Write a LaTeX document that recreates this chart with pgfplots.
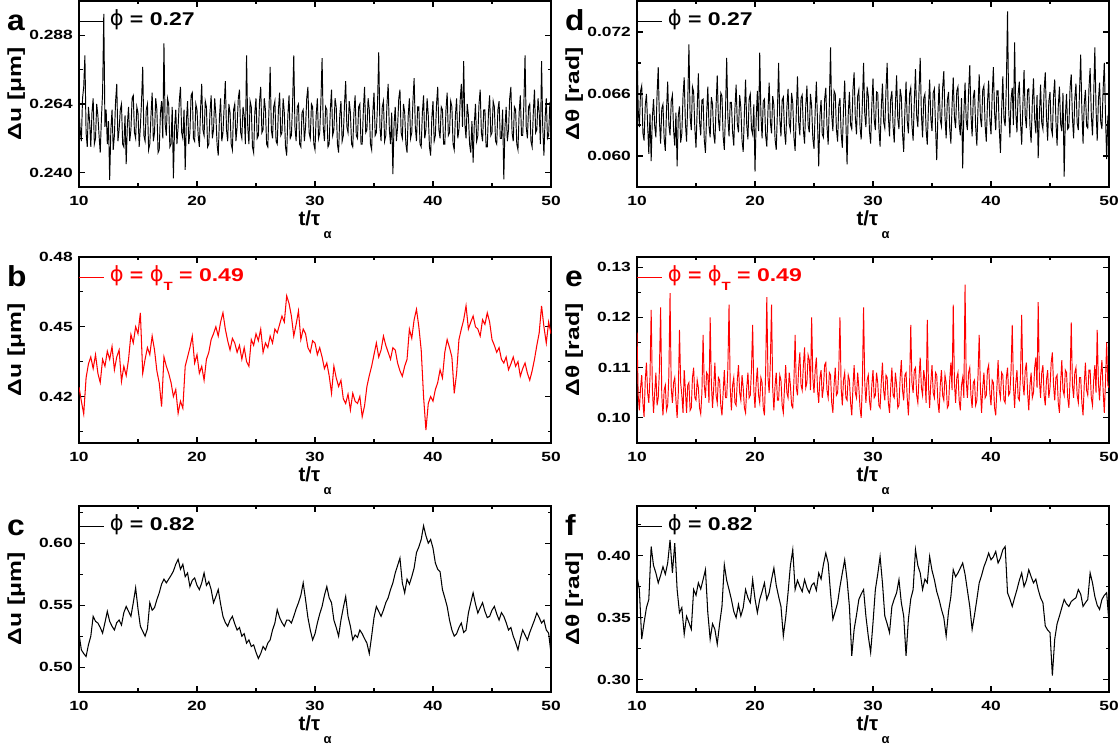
\documentclass[border=0pt]{standalone}
\usepackage{fontspec}
\setmainfont{Liberation Sans}
\newfontfamily\widef[FakeStretch=1.3]{Liberation Sans}
\newfontfamily\legf[FakeStretch=1.25]{Liberation Sans}
\newfontfamily\ylabf[FakeStretch=1.3]{Liberation Sans}
\newfontfamily\letf[FakeStretch=1.1]{Liberation Sans}
\newfontfamily\symf{DejaVu Sans}
\usepackage{pgfplots}
\pgfplotsset{compat=1.18}
\definecolor{pred}{RGB}{255,0,0}
\newcommand{\phis}{{\symf\mdseries\fontsize{21}{21}\selectfont ϕ}}
\newcommand{\subT}{\raisebox{-9bp}{\fontsize{12}{12}\selectfont T}}
\pgfplotsset{
  panel/.style={
    scale only axis, width=472bp, height=186bp, anchor=south west,
    xmin=10, xmax=50, xtick={10,20,30,40,50}, xticklabels={10,20,30,40,50},
    minor xtick={15,25,35,45},
    axis line style={line width=2bp},
    every tick/.style={black, line width=1.1bp},
    major tick length=6bp, minor tick length=3.5bp,
    tick align=inside, tick pos=both,
    every tick label/.append style={inner sep=0pt, font=\widef\bfseries\fontsize{13.4}{13.4}\selectfont},
    xticklabel style={yshift=-9bp},
    yticklabel style={xshift=-6bp},
    xlabel={t/τ\,\raisebox{-13bp}{\fontsize{13}{13}\selectfont α}},
    every axis x label/.style={at={(axis description cs:0.5,0)}, anchor=north, yshift=-24bp, inner sep=0pt, font=\bfseries\fontsize{20.5}{20.5}\selectfont},
    every axis y label/.style={at={(axis description cs:-0.133,0.5)}, rotate=90, anchor=center, inner sep=0pt, font=\ylabf\bfseries\fontsize{19}{19}\selectfont},
    legend style={at={(axis description cs:0,1)}, anchor=west, yshift=-17bp, draw=none, fill=none, inner sep=0pt, outer sep=0pt, column sep=3bp, font=\legf\bfseries\fontsize{18.5}{18.5}\selectfont},
    legend cell align=left,
    legend image code/.code={\draw[#1, line width=0.8bp] (0bp,-3.5bp) -- (25bp,-3.5bp);},
  },
  dat/.style={line width=0.95bp, black},
  sdat/.style={line width=1.05bp, black},
}
\begin{document}
\begin{tikzpicture}
% ---------------- panel a
\begin{axis}[panel, name=pa, at={(79bp,560bp)}, ymin=0.235, ymax=0.300,
  ytick={0.240,0.264,0.288}, yticklabels={0.240,0.264,0.288}, minor ytick={0.252,0.276},
  ylabel={Δu [μm]}]
\addplot[dat] coordinates {
(10.0,0.262)(10.1,0.255)(10.2,0.251)(10.3,0.266)(10.4,0.270)(10.5,0.281)(10.6,0.254)(10.7,0.249)(10.8,0.263)(10.9,0.258)
(11.0,0.249)(11.1,0.261)(11.2,0.266)(11.3,0.250)(11.4,0.252)(11.5,0.264)(11.6,0.260)(11.7,0.253)(11.8,0.247)(11.9,0.259)
(12.0,0.268)(12.1,0.2955)(12.2,0.256)(12.3,0.262)(12.4,0.250)(12.5,0.258)(12.6,0.2375)(12.7,0.255)(12.8,0.262)(12.9,0.248)
(13.0,0.253)(13.1,0.265)(13.2,0.271)(13.3,0.251)(13.4,0.255)(13.5,0.262)(13.6,0.264)(13.7,0.250)(13.8,0.249)(13.9,0.260)
(14.0,0.243)(14.1,0.257)(14.2,0.263)(14.3,0.251)(14.4,0.255)(14.5,0.266)(14.6,0.267)(14.7,0.254)(14.8,0.252)(14.9,0.263)
(15.0,0.261)(15.1,0.249)(15.2,0.256)(15.3,0.265)(15.4,0.277)(15.5,0.253)(15.6,0.251)(15.7,0.262)(15.8,0.264)(15.9,0.248)
(16.0,0.250)(16.1,0.260)(16.2,0.268)(16.3,0.251)(16.4,0.254)(16.5,0.266)(16.6,0.262)(16.7,0.247)(16.8,0.248)(16.9,0.261)
(17.0,0.265)(17.1,0.252)(17.2,0.2852)(17.3,0.257)(17.4,0.253)(17.5,0.266)(17.6,0.264)(17.7,0.249)(17.8,0.250)(17.9,0.263)
(18.0,0.238)(18.1,0.256)(18.2,0.262)(18.3,0.250)(18.4,0.256)(18.5,0.265)(18.6,0.270)(18.7,0.254)(18.8,0.252)(18.9,0.262)
(19.0,0.241)(19.1,0.258)(19.2,0.265)(19.3,0.250)(19.4,0.254)(19.5,0.267)(19.6,0.268)(19.7,0.252)(19.8,0.251)(19.9,0.264)
(20.0,0.262)(20.1,0.253)(20.2,0.249)(20.3,0.262)(20.4,0.271)(20.5,0.255)(20.6,0.253)(20.7,0.265)(20.8,0.263)(20.9,0.249)
(21.0,0.250)(21.1,0.261)(21.2,0.267)(21.3,0.252)(21.4,0.255)(21.5,0.266)(21.6,0.260)(21.7,0.250)(21.8,0.246)(21.9,0.259)
(22.0,0.266)(22.1,0.251)(22.2,0.254)(22.3,0.263)(22.4,0.272)(22.5,0.255)(22.6,0.251)(22.7,0.264)(22.8,0.261)(22.9,0.250)
(23.0,0.248)(23.1,0.262)(23.2,0.264)(23.3,0.251)(23.4,0.256)(23.5,0.266)(23.6,0.269)(23.7,0.254)(23.8,0.252)(23.9,0.263)
(24.0,0.260)(24.1,0.250)(24.2,0.281)(24.3,0.256)(24.4,0.250)(24.5,0.265)(24.6,0.263)(24.7,0.249)(24.8,0.247)(24.9,0.261)
(25.0,0.266)(25.1,0.252)(25.2,0.253)(25.3,0.265)(25.4,0.270)(25.5,0.254)(25.6,0.255)(25.7,0.266)(25.8,0.262)(25.9,0.250)
(26.0,0.249)(26.1,0.262)(26.2,0.277)(26.3,0.255)(26.4,0.252)(26.5,0.263)(26.6,0.265)(26.7,0.251)(26.8,0.250)(26.9,0.262)
(27.0,0.268)(27.1,0.253)(27.2,0.254)(27.3,0.266)(27.4,0.261)(27.5,0.249)(27.6,0.246)(27.7,0.260)(27.8,0.267)(27.9,0.252)
(28.0,0.253)(28.1,0.264)(28.2,0.281)(28.3,0.256)(28.4,0.251)(28.5,0.263)(28.6,0.264)(28.7,0.250)(28.8,0.249)(28.9,0.261)
(29.0,0.262)(29.1,0.251)(29.2,0.256)(29.3,0.266)(29.4,0.270)(29.5,0.254)(29.6,0.252)(29.7,0.264)(29.8,0.263)(29.9,0.250)
(30.0,0.248)(30.1,0.260)(30.2,0.266)(30.3,0.252)(30.4,0.254)(30.5,0.265)(30.6,0.280)(30.7,0.256)(30.8,0.251)(30.9,0.263)
(31.0,0.262)(31.1,0.249)(31.2,0.250)(31.3,0.262)(31.4,0.269)(31.5,0.253)(31.6,0.255)(31.7,0.266)(31.8,0.263)(31.9,0.250)
(32.0,0.247)(32.1,0.260)(32.2,0.265)(32.3,0.251)(32.4,0.253)(32.5,0.264)(32.6,0.272)(32.7,0.256)(32.8,0.254)(32.9,0.265)
(33.0,0.261)(33.1,0.250)(33.2,0.249)(33.3,0.261)(33.4,0.267)(33.5,0.253)(33.6,0.252)(33.7,0.263)(33.8,0.264)(33.9,0.250)
(34.0,0.250)(34.1,0.262)(34.2,0.270)(34.3,0.254)(34.4,0.255)(34.5,0.266)(34.6,0.262)(34.7,0.250)(34.8,0.248)(34.9,0.261)
(35.0,0.268)(35.1,0.253)(35.2,0.254)(35.3,0.264)(35.4,0.282)(35.5,0.256)(35.6,0.251)(35.7,0.263)(35.8,0.265)(35.9,0.251)
(36.0,0.253)(36.1,0.264)(36.2,0.271)(36.3,0.255)(36.4,0.250)(36.5,0.261)(36.6,0.2395)(36.7,0.257)(36.8,0.263)(36.9,0.251)
(37.0,0.256)(37.1,0.266)(37.2,0.269)(37.3,0.254)(37.4,0.252)(37.5,0.264)(37.6,0.261)(37.7,0.250)(37.8,0.247)(37.9,0.260)
(38.0,0.266)(38.1,0.252)(38.2,0.254)(38.3,0.265)(38.4,0.273)(38.5,0.256)(38.6,0.251)(38.7,0.263)(38.8,0.263)(38.9,0.250)
(39.0,0.249)(39.1,0.261)(39.2,0.267)(39.3,0.252)(39.4,0.255)(39.5,0.266)(39.6,0.260)(39.7,0.249)(39.8,0.246)(39.9,0.259)
(40.0,0.265)(40.1,0.251)(40.2,0.253)(40.3,0.264)(40.4,0.270)(40.5,0.255)(40.6,0.252)(40.7,0.263)(40.8,0.262)(40.9,0.250)
(41.0,0.250)(41.1,0.262)(41.2,0.268)(41.3,0.253)(41.4,0.254)(41.5,0.265)(41.6,0.263)(41.7,0.250)(41.8,0.248)(41.9,0.260)
(42.0,0.266)(42.1,0.252)(42.2,0.255)(42.3,0.265)(42.4,0.271)(42.5,0.256)(42.6,0.279)(42.7,0.257)(42.8,0.252)(42.9,0.264)
(43.0,0.260)(43.1,0.250)(43.2,0.247)(43.3,0.258)(43.4,0.2435)(43.5,0.257)(43.6,0.264)(43.7,0.251)(43.8,0.253)(43.9,0.264)
(44.0,0.269)(44.1,0.254)(44.2,0.251)(44.3,0.262)(44.4,0.262)(44.5,0.249)(44.6,0.249)(44.7,0.261)(44.8,0.267)(44.9,0.253)
(45.0,0.254)(45.1,0.265)(45.2,0.263)(45.3,0.251)(45.4,0.250)(45.5,0.262)(45.6,0.265)(45.7,0.252)(45.8,0.252)(45.9,0.262)
(46.0,0.2377)(46.1,0.256)(46.2,0.263)(46.3,0.251)(46.4,0.255)(46.5,0.266)(46.6,0.270)(46.7,0.254)(46.8,0.251)(46.9,0.263)
(47.0,0.262)(47.1,0.250)(47.2,0.248)(47.3,0.261)(47.4,0.267)(47.5,0.253)(47.6,0.253)(47.7,0.264)(47.8,0.281)(47.9,0.256)
(48.0,0.252)(48.1,0.263)(48.2,0.264)(48.3,0.251)(48.4,0.249)(48.5,0.261)(48.6,0.269)(48.7,0.254)(48.8,0.255)(48.9,0.266)
(49.0,0.261)(49.1,0.250)(49.2,0.279)(49.3,0.256)(49.4,0.246)(49.5,0.259)(49.6,0.266)(49.7,0.252)(49.8,0.253)(49.9,0.264)(50.0,0.263)
};
\addlegendentry{\phis{} = 0.27}
\end{axis}
% ---------------- panel b
\begin{axis}[panel, name=pb, at={(79bp,304bp)}, ymin=0.40, ymax=0.48,
  ytick={0.42,0.45,0.48}, yticklabels={0.42,0.45,0.48}, minor ytick={0.405,0.435,0.465},
  ylabel={Δu [μm]}]
\addplot[sdat, pred] coordinates {
(10.0,0.424)(10.2,0.418)(10.4,0.4125)(10.6,0.428)(10.8,0.434)(11.0,0.437)(11.2,0.432)(11.4,0.438)(11.6,0.430)(11.8,0.426)
(12.0,0.436)(12.2,0.433)(12.4,0.4395)(12.6,0.436)(12.8,0.4415)(13.0,0.4315)(13.2,0.437)(13.4,0.440)(13.6,0.4265)(13.8,0.433)
(14.0,0.429)(14.2,0.436)(14.4,0.4467)(14.6,0.443)(14.8,0.450)(15.0,0.447)(15.2,0.456)(15.4,0.430)(15.6,0.436)(15.8,0.441)
(16.0,0.438)(16.2,0.446)(16.4,0.440)(16.6,0.431)(16.8,0.4258)(17.0,0.4157)(17.2,0.437)(17.4,0.433)(17.6,0.430)(17.8,0.426)
(18.0,0.420)(18.2,0.423)(18.4,0.4128)(18.6,0.418)(18.8,0.415)(19.0,0.433)(19.2,0.437)(19.4,0.441)(19.6,0.446)(19.8,0.4344)
(20.0,0.438)(20.2,0.430)(20.4,0.433)(20.6,0.427)(20.8,0.436)(21.0,0.439)(21.2,0.4445)(21.4,0.447)(21.6,0.450)(21.8,0.446)
(22.0,0.452)(22.2,0.456)(22.4,0.449)(22.6,0.444)(22.8,0.440)(23.0,0.445)(23.2,0.443)(23.4,0.439)(23.6,0.442)(23.8,0.436)
(24.0,0.441)(24.2,0.435)(24.4,0.433)(24.6,0.4445)(24.8,0.442)(25.0,0.447)(25.2,0.444)(25.4,0.449)(25.6,0.439)(25.8,0.443)
(26.0,0.441)(26.2,0.446)(26.4,0.443)(26.6,0.449)(26.8,0.4474)(27.0,0.451)(27.2,0.4546)(27.4,0.452)(27.6,0.4633)(27.8,0.460)
(28.0,0.4546)(28.2,0.446)(28.4,0.451)(28.6,0.4568)(28.8,0.4445)(29.0,0.449)(29.2,0.447)(29.4,0.441)(29.6,0.439)(29.8,0.444)
(30.0,0.443)(30.2,0.438)(30.4,0.441)(30.6,0.437)(30.8,0.432)(31.0,0.4344)(31.2,0.429)(31.4,0.4214)(31.6,0.433)(31.8,0.428)
(32.0,0.4243)(32.2,0.427)(32.4,0.419)(32.6,0.417)(32.8,0.421)(33.0,0.4142)(33.2,0.4214)(33.4,0.418)(33.6,0.417)(33.8,0.420)
(34.0,0.4113)(34.2,0.416)(34.4,0.4243)(34.6,0.429)(34.8,0.433)(35.0,0.438)(35.2,0.443)(35.4,0.437)(35.6,0.440)(35.8,0.446)
(36.0,0.442)(36.2,0.439)(36.4,0.436)(36.6,0.441)(36.8,0.440)(37.0,0.4344)(37.2,0.431)(37.4,0.4287)(37.6,0.433)(37.8,0.436)
(38.0,0.449)(38.2,0.445)(38.4,0.453)(38.6,0.4575)(38.8,0.450)(39.0,0.440)(39.2,0.420)(39.4,0.4056)(39.6,0.417)(39.8,0.420)
(40.0,0.418)(40.2,0.423)(40.4,0.426)(40.6,0.4315)(40.8,0.428)(41.0,0.439)(41.2,0.4445)(41.4,0.441)(41.6,0.437)(41.8,0.4214)
(42.0,0.430)(42.2,0.4445)(42.4,0.449)(42.6,0.453)(42.8,0.459)(43.0,0.449)(43.2,0.452)(43.4,0.4546)(43.6,0.450)(43.8,0.449)
(44.0,0.446)(44.2,0.453)(44.4,0.451)(44.6,0.456)(44.8,0.452)(45.0,0.4445)(45.2,0.442)(45.4,0.439)(45.6,0.441)(45.8,0.436)
(46.0,0.4344)(46.2,0.437)(46.4,0.4315)(46.6,0.434)(46.8,0.437)(47.0,0.433)(47.2,0.435)(47.4,0.4287)(47.6,0.432)(47.8,0.4344)
(48.0,0.430)(48.2,0.427)(48.4,0.431)(48.6,0.436)(48.8,0.442)(49.0,0.4474)(49.2,0.459)(49.4,0.450)(49.6,0.443)(49.8,0.452)(50.0,0.447)
};
\addlegendentry{\textcolor{pred}{\phis{} = \phis\subT{} = 0.49}}
\end{axis}
% ---------------- panel c
\begin{axis}[panel, name=pc, at={(79bp,55bp)}, ymin=0.48, ymax=0.63,
  ytick={0.50,0.55,0.60}, yticklabels={0.50,0.55,0.60}, minor ytick={0.525,0.575,0.625},
  ylabel={Δu [μm]}]
\addplot[sdat] coordinates {
(10.0,0.527)(10.2,0.514)(10.4,0.511)(10.6,0.5086)(10.8,0.518)(11.0,0.525)(11.2,0.541)(11.4,0.537)(11.6,0.5356)(11.8,0.532)
(12.0,0.5275)(12.2,0.536)(12.4,0.545)(12.6,0.537)(12.8,0.533)(13.0,0.530)(13.2,0.536)(13.4,0.538)(13.6,0.534)(13.8,0.544)
(14.0,0.549)(14.2,0.545)(14.4,0.541)(14.6,0.552)(14.8,0.564)(15.0,0.547)(15.2,0.533)(15.4,0.529)(15.6,0.525)(15.8,0.531)
(16.0,0.552)(16.2,0.546)(16.4,0.548)(16.6,0.5545)(16.8,0.560)(17.0,0.567)(17.2,0.571)(17.4,0.568)(17.6,0.571)(17.8,0.574)
(18.0,0.5775)(18.2,0.583)(18.4,0.587)(18.6,0.579)(18.8,0.583)(19.0,0.573)(19.2,0.576)(19.4,0.565)(19.6,0.570)(19.8,0.572)
(20.0,0.566)(20.2,0.5626)(20.4,0.568)(20.6,0.576)(20.8,0.566)(21.0,0.569)(21.2,0.5626)(21.4,0.552)(21.6,0.557)(21.8,0.5626)
(22.0,0.551)(22.2,0.541)(22.4,0.536)(22.6,0.533)(22.8,0.538)(23.0,0.541)(23.2,0.535)(23.4,0.530)(23.6,0.532)(23.8,0.525)
(24.0,0.527)(24.2,0.5194)(24.4,0.522)(24.6,0.5167)(24.8,0.518)(25.0,0.512)(25.2,0.507)(25.4,0.511)(25.6,0.5167)(25.8,0.514)
(26.0,0.5194)(26.2,0.522)(26.4,0.530)(26.6,0.5356)(26.8,0.5464)(27.0,0.540)(27.2,0.536)(27.4,0.533)(27.6,0.538)(27.8,0.538)
(28.0,0.5356)(28.2,0.541)(28.4,0.547)(28.6,0.552)(28.8,0.558)(29.0,0.568)(29.2,0.5545)(29.4,0.540)(29.6,0.530)(29.8,0.522)
(30.0,0.527)(30.2,0.5356)(30.4,0.543)(30.6,0.549)(30.8,0.558)(31.0,0.565)(31.2,0.556)(31.4,0.552)(31.6,0.538)(31.8,0.532)
(32.0,0.525)(32.2,0.538)(32.4,0.548)(32.6,0.557)(32.8,0.541)(33.0,0.533)(33.2,0.522)(33.4,0.526)(33.6,0.524)(33.8,0.530)
(34.0,0.527)(34.2,0.523)(34.4,0.5194)(34.6,0.511)(34.8,0.525)(35.0,0.540)(35.2,0.549)(35.4,0.545)(35.6,0.541)(35.8,0.546)
(36.0,0.552)(36.2,0.556)(36.4,0.5626)(36.6,0.568)(36.8,0.576)(37.0,0.582)(37.2,0.588)(37.4,0.568)(37.6,0.560)(37.8,0.571)
(38.0,0.567)(38.2,0.573)(38.4,0.580)(38.6,0.5924)(38.8,0.597)(39.0,0.603)(39.2,0.614)(39.4,0.606)(39.6,0.600)(39.8,0.603)
(40.0,0.596)(40.2,0.584)(40.4,0.579)(40.6,0.577)(40.8,0.5626)(41.0,0.556)(41.2,0.549)(41.4,0.538)(41.6,0.530)(41.8,0.525)
(42.0,0.527)(42.2,0.532)(42.4,0.5356)(42.6,0.528)(42.8,0.530)(43.0,0.5437)(43.2,0.552)(43.4,0.560)(43.6,0.551)(43.8,0.5437)
(44.0,0.548)(44.2,0.552)(44.4,0.545)(44.6,0.540)(44.8,0.541)(45.0,0.546)(45.2,0.549)(45.4,0.543)(45.6,0.538)(45.8,0.544)
(46.0,0.541)(46.2,0.536)(46.4,0.530)(46.6,0.532)(46.8,0.525)(47.0,0.520)(47.2,0.514)(47.4,0.523)(47.6,0.530)(47.8,0.526)
(48.0,0.522)(48.2,0.528)(48.4,0.533)(48.6,0.538)(48.8,0.5437)(49.0,0.540)(49.2,0.5356)(49.4,0.538)(49.6,0.530)(49.8,0.5275)(50.0,0.511)
};
\addlegendentry{\phis{} = 0.82}
\end{axis}
% ---------------- panel d
\begin{axis}[panel, name=pd, at={(637bp,560bp)}, ymin=0.057, ymax=0.075,
  ytick={0.060,0.066,0.072}, yticklabels={0.060,0.066,0.072}, minor ytick={0.063,0.069},
  ylabel={Δθ [rad]}]
\addplot[dat] coordinates {
(10.0,0.0712)(10.1,0.0645)(10.2,0.0628)(10.3,0.0663)(10.4,0.0668)(10.5,0.0622)(10.6,0.0615)(10.7,0.0649)(10.8,0.0660)(10.9,0.0631)
(11.0,0.0602)(11.1,0.0641)(11.2,0.0595)(11.3,0.0637)(11.4,0.0655)(11.5,0.0629)(11.6,0.0618)(11.7,0.0660)(11.8,0.0686)(11.9,0.0634)
(12.0,0.0612)(12.1,0.0646)(12.2,0.0650)(12.3,0.0617)(12.4,0.0605)(12.5,0.0644)(12.6,0.0672)(12.7,0.0630)(12.8,0.0620)(12.9,0.0653)
(13.0,0.0659)(13.1,0.0625)(13.2,0.0610)(13.3,0.0642)(13.4,0.0590)(13.5,0.0639)(13.6,0.0648)(13.7,0.0613)(13.8,0.0622)(13.9,0.0658)
(14.0,0.0676)(14.1,0.0632)(14.2,0.0614)(14.3,0.0651)(14.4,0.0708)(14.5,0.0638)(14.6,0.0625)(14.7,0.0667)(14.8,0.0662)(14.9,0.0627)
(15.0,0.0608)(15.1,0.0645)(15.2,0.0680)(15.3,0.0633)(15.4,0.0620)(15.5,0.0654)(15.6,0.0655)(15.7,0.0616)(15.8,0.0603)(15.9,0.0640)
(16.0,0.0667)(16.1,0.0629)(16.2,0.0618)(16.3,0.0657)(16.4,0.0650)(16.5,0.0621)(16.6,0.0612)(16.7,0.0648)(16.8,0.0678)(16.9,0.0635)
(17.0,0.0624)(17.1,0.0661)(17.2,0.0658)(17.3,0.0619)(17.4,0.0606)(17.5,0.0643)(17.6,0.0695)(17.7,0.0637)(17.8,0.0619)(17.9,0.0652)
(18.0,0.0652)(18.1,0.0623)(18.2,0.0610)(18.3,0.0646)(18.4,0.0669)(18.5,0.0631)(18.6,0.0623)(18.7,0.0659)(18.8,0.0647)(18.9,0.0615)
(19.0,0.0604)(19.1,0.0641)(19.2,0.0674)(19.3,0.0630)(19.4,0.0616)(19.5,0.0655)(19.6,0.0660)(19.7,0.0626)(19.8,0.0621)(19.9,0.0650)
(20.0,0.0585)(20.1,0.0636)(20.2,0.0663)(20.3,0.0624)(20.4,0.0700)(20.5,0.0640)(20.6,0.0617)(20.7,0.0653)(20.8,0.0655)(20.9,0.0620)
(21.0,0.0609)(21.1,0.0644)(21.2,0.0671)(21.3,0.0633)(21.4,0.0622)(21.5,0.0658)(21.6,0.0649)(21.7,0.0616)(21.8,0.0606)(21.9,0.0643)
(22.0,0.0690)(22.1,0.0636)(22.2,0.0619)(22.3,0.0654)(22.4,0.0657)(22.5,0.0624)(22.6,0.0611)(22.7,0.0647)(22.8,0.0665)(22.9,0.0631)
(23.0,0.0625)(23.1,0.0661)(23.2,0.0651)(23.3,0.0618)(23.4,0.0605)(23.5,0.0642)(23.6,0.0677)(23.7,0.0633)(23.8,0.0620)(23.9,0.0656)
(24.0,0.0659)(24.1,0.0625)(24.2,0.0612)(24.3,0.0648)(24.4,0.0668)(24.5,0.0630)(24.6,0.0623)(24.7,0.0660)(24.8,0.0648)(24.9,0.0617)
(25.0,0.0607)(25.1,0.0644)(25.2,0.0672)(25.3,0.0632)(25.4,0.0590)(25.5,0.0639)(25.6,0.0654)(25.7,0.0621)(25.8,0.0618)(25.9,0.0655)
(26.0,0.0666)(26.1,0.0629)(26.2,0.0611)(26.3,0.0650)(26.4,0.0705)(26.5,0.0640)(26.6,0.0624)(26.7,0.0663)(26.8,0.0660)(26.9,0.0626)
(27.0,0.0614)(27.1,0.0649)(27.2,0.0656)(27.3,0.0622)(27.4,0.0608)(27.5,0.0645)(27.6,0.0673)(27.7,0.0634)(27.8,0.0592)(27.9,0.0640)
(28.0,0.0662)(28.1,0.0630)(28.2,0.0626)(28.3,0.0664)(28.4,0.0681)(28.5,0.0637)(28.6,0.0621)(28.7,0.0658)(28.8,0.0664)(28.9,0.0628)
(29.0,0.0616)(29.1,0.0652)(29.2,0.0690)(29.3,0.0641)(29.4,0.0628)(29.5,0.0667)(29.6,0.0658)(29.7,0.0624)(29.8,0.0612)(29.9,0.0649)
(30.0,0.0675)(30.1,0.0635)(30.2,0.0625)(30.3,0.0662)(30.4,0.0661)(30.5,0.0627)(30.6,0.0609)(30.7,0.0646)(30.8,0.0670)(30.9,0.0633)
(31.0,0.0627)(31.1,0.0664)(31.2,0.0690)(31.3,0.0638)(31.4,0.0619)(31.5,0.0655)(31.6,0.0663)(31.7,0.0629)(31.8,0.0613)(31.9,0.0650)
(32.0,0.0678)(32.1,0.0636)(32.2,0.0626)(32.3,0.0665)(32.4,0.0657)(32.5,0.0622)(32.6,0.0604)(32.7,0.0643)(32.8,0.0672)(32.9,0.0634)
(33.0,0.0622)(33.1,0.0660)(33.2,0.0666)(33.3,0.0630)(33.4,0.0615)(33.5,0.0652)(33.6,0.0684)(33.7,0.0639)(33.8,0.0628)(33.9,0.0663)
(34.0,0.0695)(34.1,0.0641)(34.2,0.0618)(34.3,0.0656)(34.4,0.0660)(34.5,0.0625)(34.6,0.0611)(34.7,0.0648)(34.8,0.0674)(34.9,0.0636)
(35.0,0.0624)(35.1,0.0661)(35.2,0.0665)(35.3,0.0628)(35.4,0.0596)(35.5,0.0640)(35.6,0.0670)(35.7,0.0635)(35.8,0.0629)(35.9,0.0666)
(36.0,0.0682)(36.1,0.0638)(36.2,0.0617)(36.3,0.0654)(36.4,0.0662)(36.5,0.0627)(36.6,0.0612)(36.7,0.0649)(36.8,0.0676)(36.9,0.0637)
(37.0,0.0627)(37.1,0.0663)(37.2,0.0667)(37.3,0.0631)(37.4,0.0620)(37.5,0.0656)(37.6,0.0588)(37.7,0.0641)(37.8,0.0671)(37.9,0.0634)
(38.0,0.0625)(38.1,0.0662)(38.2,0.0688)(38.3,0.0640)(38.4,0.0619)(38.5,0.0657)(38.6,0.0664)(38.7,0.0628)(38.8,0.0610)(38.9,0.0647)
(39.0,0.0679)(39.1,0.0637)(39.2,0.0628)(39.3,0.0664)(39.4,0.0668)(39.5,0.0630)(39.6,0.0614)(39.7,0.0651)(39.8,0.0673)(39.9,0.0635)
(40.0,0.0621)(40.1,0.0659)(40.2,0.0686)(40.3,0.0642)(40.4,0.0625)(40.5,0.0663)(40.6,0.0663)(40.7,0.0626)(40.8,0.0603)(40.9,0.0644)
(41.0,0.0677)(41.1,0.0636)(41.2,0.0629)(41.3,0.0668)(41.4,0.0740)(41.5,0.0645)(41.6,0.0618)(41.7,0.0655)(41.8,0.0666)(41.9,0.0630)
(42.0,0.0710)(42.1,0.0642)(42.2,0.0623)(42.3,0.0660)(42.4,0.0672)(42.5,0.0633)(42.6,0.0611)(42.7,0.0649)(42.8,0.0683)(42.9,0.0639)
(43.0,0.0627)(43.1,0.0664)(43.2,0.0665)(43.3,0.0629)(43.4,0.0613)(43.5,0.0651)(43.6,0.0675)(43.7,0.0636)(43.8,0.0622)(43.9,0.0659)
(44.0,0.0598)(44.1,0.0640)(44.2,0.0669)(44.3,0.0632)(44.4,0.0626)(44.5,0.0664)(44.6,0.0681)(44.7,0.0638)(44.8,0.0615)(44.9,0.0653)
(45.0,0.0662)(45.1,0.0627)(45.2,0.0621)(45.3,0.0658)(45.4,0.0674)(45.5,0.0634)(45.6,0.0610)(45.7,0.0648)(45.8,0.0667)(45.9,0.0631)
(46.0,0.0624)(46.1,0.0661)(46.2,0.0580)(46.3,0.0638)(46.4,0.0660)(46.5,0.0626)(46.6,0.0628)(46.7,0.0666)(46.8,0.0679)(46.9,0.0637)
(47.0,0.0617)(47.1,0.0655)(47.2,0.0670)(47.3,0.0632)(47.4,0.0625)(47.5,0.0662)(47.6,0.0698)(47.7,0.0644)(47.8,0.0612)(47.9,0.0650)
(48.0,0.0664)(48.1,0.0629)(48.2,0.0627)(48.3,0.0665)(48.4,0.0685)(48.5,0.0640)(48.6,0.0620)(48.7,0.0657)(48.8,0.0705)(48.9,0.0646)
(49.0,0.0615)(49.1,0.0653)(49.2,0.0671)(49.3,0.0633)(49.4,0.0626)(49.5,0.0664)(49.6,0.0690)(49.7,0.0641)(49.8,0.0597)(49.9,0.0638)(50.0,0.0642)
};
\addlegendentry{\phis{} = 0.27}
\end{axis}
% ---------------- panel e
\begin{axis}[panel, name=pe, at={(637bp,304bp)}, ymin=0.095, ymax=0.132,
  ytick={0.10,0.11,0.12,0.13}, yticklabels={0.10,0.11,0.12,0.13}, minor ytick={0.105,0.115,0.125},
  ylabel={Δθ [rad]}]
\addplot[dat, pred] coordinates {
(10.0,0.1170)(10.1,0.1045)(10.2,0.1015)(10.3,0.1060)(10.4,0.1085)(10.5,0.1030)(10.6,0.1002)(10.7,0.1075)(10.8,0.1110)(10.9,0.1050)
(11.0,0.1030)(11.1,0.1080)(11.2,0.1215)(11.3,0.1060)(11.4,0.1010)(11.5,0.1050)(11.6,0.1090)(11.7,0.1025)(11.8,0.1040)(11.9,0.1095)
(12.0,0.1220)(12.1,0.1045)(12.2,0.1005)(12.3,0.1055)(12.4,0.1065)(12.5,0.1015)(12.6,0.1025)(12.7,0.1085)(12.8,0.1248)(12.9,0.1060)
(13.0,0.1030)(13.1,0.1070)(13.2,0.1080)(13.3,0.1035)(13.4,0.1000)(13.5,0.1050)(13.6,0.1175)(13.7,0.1070)(13.8,0.1045)(13.9,0.1010)
(14.0,0.1095)(14.1,0.1055)(14.2,0.1010)(14.3,0.1065)(14.4,0.1070)(14.5,0.1015)(14.6,0.1020)(14.7,0.1080)(14.8,0.1100)(14.9,0.1040)
(15.0,0.1035)(15.1,0.1075)(15.2,0.1060)(15.3,0.1020)(15.4,0.1008)(15.5,0.1050)(15.6,0.1165)(15.7,0.1065)(15.8,0.1040)(15.9,0.1090)
(16.0,0.1085)(16.1,0.1030)(16.2,0.1200)(16.3,0.1070)(16.4,0.1020)(16.5,0.1060)(16.6,0.1110)(16.7,0.1045)(16.8,0.1030)(16.9,0.1080)
(17.0,0.1075)(17.1,0.1025)(17.2,0.1005)(17.3,0.1050)(17.4,0.1095)(17.5,0.1040)(17.6,0.1040)(17.7,0.1100)(17.8,0.1225)(17.9,0.1060)
(18.0,0.1015)(18.1,0.1065)(18.2,0.1080)(18.3,0.1030)(18.4,0.1025)(18.5,0.1075)(18.6,0.1105)(18.7,0.1050)(18.8,0.1035)(18.9,0.1085)
(19.0,0.1060)(19.1,0.1020)(19.2,0.1010)(19.3,0.1060)(19.4,0.1090)(19.5,0.1040)(19.6,0.1045)(19.7,0.1095)(19.8,0.1185)(19.9,0.1055)
(20.0,0.1020)(20.1,0.1070)(20.2,0.1100)(20.3,0.1045)(20.4,0.1030)(20.5,0.1080)(20.6,0.1070)(20.7,0.1020)(20.8,0.1005)(20.9,0.1090)
(21.0,0.1240)(21.1,0.1080)(21.2,0.1050)(21.3,0.1110)(21.4,0.1225)(21.5,0.1060)(21.6,0.1015)(21.7,0.1065)(21.8,0.1090)(21.9,0.1035)
(22.0,0.1035)(22.1,0.1085)(22.2,0.1075)(22.3,0.1025)(22.4,0.1010)(22.5,0.1060)(22.6,0.1105)(22.7,0.1050)(22.8,0.1040)(22.9,0.1090)
(23.0,0.1065)(23.1,0.1025)(23.2,0.1020)(23.3,0.1075)(23.4,0.1165)(23.5,0.1060)(23.6,0.1045)(23.7,0.1100)(23.8,0.1130)(23.9,0.1065)
(24.0,0.1055)(24.1,0.1105)(24.2,0.1140)(24.3,0.1060)(24.4,0.1070)(24.5,0.1125)(24.6,0.1115)(24.7,0.1055)(24.8,0.1200)(24.9,0.1080)
(25.0,0.1050)(25.1,0.1095)(25.2,0.1120)(25.3,0.1055)(25.4,0.1030)(25.5,0.1080)(25.6,0.1095)(25.7,0.1040)(25.8,0.1060)(25.9,0.1105)
(26.0,0.1110)(26.1,0.1055)(26.2,0.1040)(26.3,0.1090)(26.4,0.1085)(26.5,0.1030)(26.6,0.1010)(26.7,0.1065)(26.8,0.1100)(26.9,0.1045)
(27.0,0.1050)(27.1,0.1095)(27.2,0.1200)(27.3,0.1060)(27.4,0.1025)(27.5,0.1075)(27.6,0.1090)(27.7,0.1040)(27.8,0.1035)(27.9,0.1085)
(28.0,0.1075)(28.1,0.1030)(28.2,0.1005)(28.3,0.1060)(28.4,0.1105)(28.5,0.1050)(28.6,0.1040)(28.7,0.1090)(28.8,0.1060)(28.9,0.1020)
(29.0,0.1000)(29.1,0.1070)(29.2,0.1220)(29.3,0.1070)(29.4,0.1030)(29.5,0.1075)(29.6,0.1085)(29.7,0.1035)(29.8,0.1015)(29.9,0.1065)
(30.0,0.1095)(30.1,0.1040)(30.2,0.1045)(30.3,0.1090)(30.4,0.1070)(30.5,0.1025)(30.6,0.1020)(30.7,0.1070)(30.8,0.1110)(30.9,0.1055)
(31.0,0.1035)(31.1,0.1085)(31.2,0.1080)(31.3,0.1030)(31.4,0.1010)(31.5,0.1060)(31.6,0.1100)(31.7,0.1045)(31.8,0.1040)(31.9,0.1090)
(32.0,0.1065)(32.1,0.1020)(32.2,0.1025)(32.3,0.1080)(32.4,0.1115)(32.5,0.1055)(32.6,0.1035)(32.7,0.1085)(32.8,0.1090)(32.9,0.1040)
(33.0,0.1005)(33.1,0.1065)(33.2,0.1185)(33.3,0.1070)(33.4,0.1050)(33.5,0.1095)(33.6,0.1100)(33.7,0.1045)(33.8,0.1030)(33.9,0.1080)
(34.0,0.1120)(34.1,0.1060)(34.2,0.1045)(34.3,0.1095)(34.4,0.1075)(34.5,0.1030)(34.6,0.1195)(34.7,0.1065)(34.8,0.1020)(34.9,0.1070)
(35.0,0.1105)(35.1,0.1050)(35.2,0.1040)(35.3,0.1090)(35.4,0.1085)(35.5,0.1030)(35.6,0.1010)(35.7,0.1065)(35.8,0.1095)(35.9,0.1045)
(36.0,0.1035)(36.1,0.1085)(36.2,0.1070)(36.3,0.1020)(36.4,0.1025)(36.5,0.1075)(36.6,0.1110)(36.7,0.1055)(36.8,0.1225)(36.9,0.1070)
(37.0,0.1030)(37.1,0.1080)(37.2,0.1090)(37.3,0.1035)(37.4,0.1015)(37.5,0.1065)(37.6,0.1080)(37.7,0.1040)(37.8,0.1265)(37.9,0.1075)
(38.0,0.1040)(38.1,0.1090)(38.2,0.1100)(38.3,0.1045)(38.4,0.1020)(38.5,0.1070)(38.6,0.1075)(38.7,0.1025)(38.8,0.1035)(38.9,0.1085)
(39.0,0.1165)(39.1,0.1060)(39.2,0.1010)(39.3,0.1060)(39.4,0.1090)(39.5,0.1040)(39.6,0.1045)(39.7,0.1095)(39.8,0.1105)(39.9,0.1050)
(40.0,0.1025)(40.1,0.1075)(40.2,0.1070)(40.3,0.1020)(40.4,0.1005)(40.5,0.1060)(40.6,0.1115)(40.7,0.1055)(40.8,0.1040)(40.9,0.1090)
(41.0,0.1085)(41.1,0.1035)(41.2,0.1030)(41.3,0.1080)(41.4,0.1100)(41.5,0.1045)(41.6,0.1050)(41.7,0.1095)(41.8,0.1185)(41.9,0.1065)
(42.0,0.1020)(42.1,0.1070)(42.2,0.1095)(42.3,0.1040)(42.4,0.1035)(42.5,0.1085)(42.6,0.1205)(42.7,0.1070)(42.8,0.1045)(42.9,0.1095)
(43.0,0.1110)(43.1,0.1050)(43.2,0.1015)(43.3,0.1065)(43.4,0.1090)(43.5,0.1040)(43.6,0.1050)(43.7,0.1100)(43.8,0.1120)(43.9,0.1060)
(44.0,0.1230)(44.1,0.1075)(44.2,0.1040)(44.3,0.1090)(44.4,0.1105)(44.5,0.1045)(44.6,0.1025)(44.7,0.1075)(44.8,0.1095)(44.9,0.1040)
(45.0,0.1060)(45.1,0.1110)(45.2,0.1130)(45.3,0.1065)(45.4,0.1035)(45.5,0.1080)(45.6,0.1085)(45.7,0.1030)(45.8,0.1010)(45.9,0.1070)
(46.0,0.1115)(46.1,0.1055)(46.2,0.1045)(46.3,0.1095)(46.4,0.1090)(46.5,0.1040)(46.6,0.1020)(46.7,0.1075)(46.8,0.1190)(46.9,0.1065)
(47.0,0.1040)(47.1,0.1090)(47.2,0.1100)(47.3,0.1045)(47.4,0.1030)(47.5,0.1080)(47.6,0.1080)(47.7,0.1030)(47.8,0.1005)(47.9,0.1065)
(48.0,0.1110)(48.1,0.1055)(48.2,0.1045)(48.3,0.1095)(48.4,0.1095)(48.5,0.1040)(48.6,0.1025)(48.7,0.1075)(48.8,0.1105)(48.9,0.1050)
(49.0,0.1175)(49.1,0.1070)(49.2,0.1035)(49.3,0.1085)(49.4,0.1115)(49.5,0.1055)(49.6,0.1010)(49.7,0.1070)(49.8,0.1150)(49.9,0.1065)(50.0,0.1060)
};
\addlegendentry{\textcolor{pred}{\phis{} = \phis\subT{} = 0.49}}
\end{axis}
% ---------------- panel f
\begin{axis}[panel, name=pf, at={(637bp,55bp)}, ymin=0.29, ymax=0.44,
  ytick={0.30,0.35,0.40}, yticklabels={0.30,0.35,0.40}, minor ytick={0.325,0.375,0.425},
  ylabel={Δθ [rad]}]
\addplot[sdat] coordinates {
(10.0,0.383)(10.2,0.3726)(10.4,0.3326)(10.6,0.346)(10.8,0.358)(11.0,0.3646)(11.2,0.4073)(11.4,0.392)(11.6,0.386)(11.8,0.378)
(12.0,0.384)(12.2,0.391)(12.4,0.385)(12.6,0.394)(12.8,0.4127)(13.0,0.386)(13.2,0.410)(13.4,0.3726)(13.6,0.354)(13.8,0.358)
(14.0,0.3366)(14.2,0.351)(14.4,0.346)(14.6,0.3405)(14.8,0.3726)(15.0,0.368)(15.2,0.378)(15.4,0.373)(15.6,0.3806)(15.8,0.3886)
(16.0,0.354)(16.2,0.3326)(16.4,0.345)(16.6,0.3405)(16.8,0.3286)(17.0,0.345)(17.2,0.359)(17.4,0.3926)(17.6,0.380)(17.8,0.3726)
(18.0,0.3646)(18.2,0.355)(18.4,0.350)(18.6,0.3606)(18.8,0.3513)(19.0,0.358)(19.2,0.3726)(19.4,0.366)(19.6,0.362)(19.8,0.3806)
(20.0,0.365)(20.2,0.354)(20.4,0.3646)(20.6,0.371)(20.8,0.378)(21.0,0.3646)(21.2,0.370)(21.4,0.3806)(21.6,0.390)(21.8,0.376)
(22.0,0.367)(22.2,0.359)(22.4,0.3352)(22.6,0.350)(22.8,0.370)(23.0,0.392)(23.2,0.4047)(23.4,0.3726)(23.6,0.380)(23.8,0.375)
(24.0,0.371)(24.2,0.3806)(24.4,0.374)(24.6,0.370)(24.8,0.376)(25.0,0.378)(25.2,0.372)(25.4,0.386)(25.6,0.381)(25.8,0.393)
(26.0,0.402)(26.2,0.394)(26.4,0.370)(26.6,0.3486)(26.8,0.355)(27.0,0.362)(27.2,0.375)(27.4,0.386)(27.6,0.3966)(27.8,0.3806)
(28.0,0.359)(28.2,0.3192)(28.4,0.3405)(28.6,0.352)(28.8,0.3646)(29.0,0.369)(29.2,0.3726)(29.4,0.351)(29.6,0.335)(29.8,0.3219)
(30.0,0.346)(30.2,0.3726)(30.4,0.385)(30.6,0.3993)(30.8,0.378)(31.0,0.3513)(31.2,0.345)(31.4,0.3379)(31.6,0.359)(31.8,0.365)
(32.0,0.370)(32.2,0.3806)(32.4,0.362)(32.6,0.3513)(32.8,0.3192)(33.0,0.3486)(33.2,0.365)(33.4,0.3726)(33.6,0.4047)(33.8,0.392)
(34.0,0.386)(34.2,0.3726)(34.4,0.381)(34.6,0.378)(34.8,0.3993)(35.0,0.388)(35.2,0.3806)(35.4,0.371)(35.6,0.3646)(35.8,0.3566)
(36.0,0.350)(36.2,0.3352)(36.4,0.355)(36.6,0.367)(36.8,0.3886)(37.0,0.383)(37.2,0.386)(37.4,0.390)(37.6,0.394)(37.8,0.385)
(38.0,0.372)(38.2,0.359)(38.4,0.3405)(38.6,0.352)(38.8,0.3646)(39.0,0.378)(39.2,0.384)(39.4,0.391)(39.6,0.396)(39.8,0.402)
(40.0,0.3966)(40.2,0.399)(40.4,0.4033)(40.6,0.394)(40.8,0.398)(41.0,0.4047)(41.2,0.4073)(41.4,0.370)(41.6,0.365)(41.8,0.359)
(42.0,0.366)(42.2,0.3726)(42.4,0.380)(42.6,0.386)(42.8,0.375)(43.0,0.380)(43.2,0.3886)(43.4,0.383)(43.6,0.378)(43.8,0.381)
(44.0,0.3726)(44.2,0.366)(44.4,0.362)(44.6,0.3432)(44.8,0.340)(45.0,0.3379)(45.2,0.3032)(45.4,0.3326)(45.6,0.345)(45.8,0.3513)
(46.0,0.358)(46.2,0.3646)(46.4,0.361)(46.6,0.359)(46.8,0.363)(47.0,0.3646)(47.2,0.366)(47.4,0.3726)(47.6,0.369)(47.8,0.359)
(48.0,0.362)(48.2,0.3646)(48.4,0.386)(48.6,0.378)(48.8,0.367)(49.0,0.360)(49.2,0.3566)(49.4,0.3646)(49.6,0.368)(49.8,0.370)(50.0,0.346)
};
\addlegendentry{\phis{} = 0.82}
\end{axis}
% panel letters
\foreach \n/\l in {pa/a,pb/b,pc/c,pd/d,pe/e,pf/f}{
  \node[anchor=base west, inner sep=0pt, font=\letf\bfseries\fontsize{29}{29}\selectfont] at ([xshift=-72bp,yshift=-30bp]\n.north west) {\l};
}
\pgfresetboundingbox
\useasboundingbox (0,0) rectangle (1118bp,747bp);
\end{tikzpicture}
\end{document}
